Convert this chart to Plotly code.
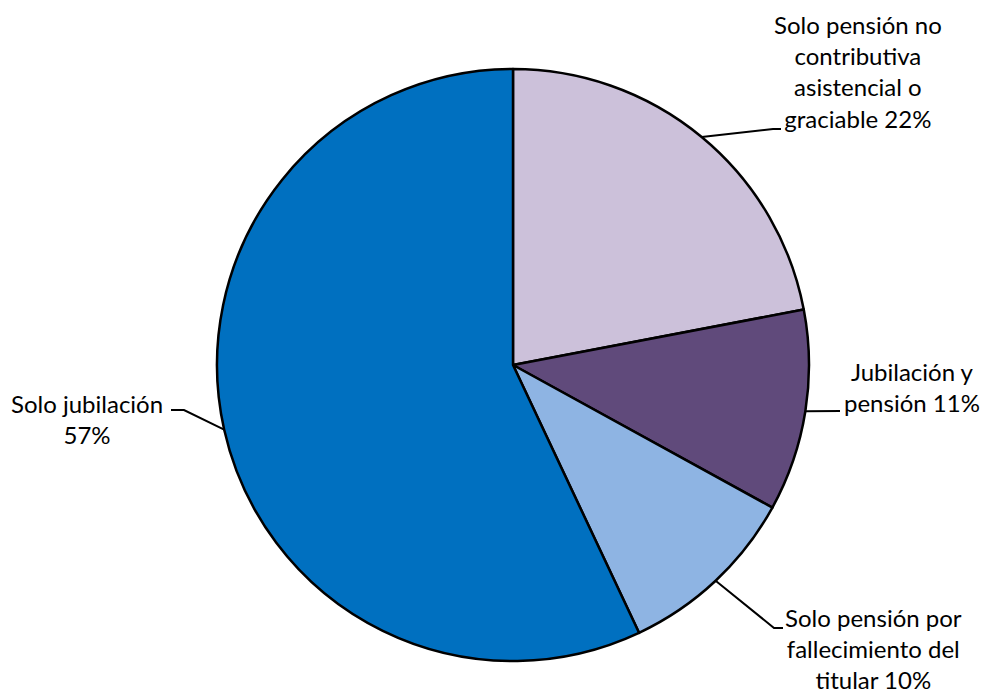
import math
import plotly.graph_objects as go

# ---- data ----
labels = [
    "Solo pensión no contributiva asistencial o graciable",
    "Jubilación y pensión",
    "Solo pensión por fallecimiento del titular",
    "Solo jubilación",
]
values = [22, 11, 10, 57]
label_texts = [
    "Solo pensión no<br>contributiva<br>asistencial o<br>graciable 22%",
    "Jubilación y<br>pensión 11%",
    "Solo pensión por<br>fallecimiento del<br>titular 10%",
    "Solo jubilación<br>57%",
]
colors = ["#CCC1DA", "#604A7B", "#8EB4E3", "#0070C0"]

# ---- layout constants (pixels) ----
W, H = 986, 694
CX, CY, R = 513, 365, 296

def px(x):
    return x / W

def py(y):
    return 1 - y / H

# label placement: (elbow x, elbow y, end x, end y, text center x, text center y)
label_layout = [
    (773, 129, 781, 129, 858, 71),
    (840, 411, 840, 411, 912, 387),
    (774, 628, 783, 628, 873, 648),
    (184, 410, 171, 410, 87, 419),
]

fig = go.Figure(
    go.Pie(
        labels=labels,
        values=values,
        sort=False,
        direction="clockwise",
        rotation=0,
        marker=dict(colors=colors, line=dict(color="black", width=2.5)),
        textinfo="none",
        hoverinfo="label+percent",
        showlegend=False,
        domain=dict(x=[px(CX - R), px(CX + R)], y=[py(CY + R), py(CY - R)]),
    )
)

total = sum(values)
cum = 0
shapes = []
annotations = []
for v, txt, lay in zip(values, label_texts, label_layout):
    mid = (cum + v / 2) / total * 2 * math.pi
    cum += v
    ax = CX + R * math.sin(mid)
    ay = CY - R * math.cos(mid)
    ex, ey, fx, fy, tx, ty = lay
    shapes.append(dict(
        type="path",
        xref="paper", yref="paper",
        path=f"M {px(ax)},{py(ay)} L {px(ex)},{py(ey)} L {px(fx)},{py(fy)}",
        line=dict(color="black", width=2),
    ))
    annotations.append(dict(
        x=px(tx), y=py(ty), xref="paper", yref="paper",
        text=txt, showarrow=False, align="center",
        xanchor="center", yanchor="middle",
        font=dict(family="Lato, 'Open Sans', sans-serif", size=24, color="#000000"),
    ))

fig.update_layout(
    width=W, height=H,
    margin=dict(l=0, r=0, t=0, b=0),
    paper_bgcolor="white",
    plot_bgcolor="white",
    shapes=shapes,
    annotations=annotations,
)

fig.write_html(
    "out.html",
    config={"displayModeBar": False},
    post_script="document.body.style.margin='0';document.body.style.overflow='hidden';",
)
